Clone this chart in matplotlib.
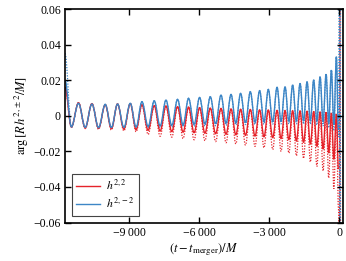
import matplotlib
matplotlib.use("Agg")
import matplotlib.pyplot as plt
from matplotlib.path import Path
from matplotlib.patches import PathPatch
from matplotlib.lines import Line2D

plt.rcParams['font.family'] = ['Liberation Serif', 'DejaVu Serif']
plt.rcParams['mathtext.fontset'] = 'stix'

# ---- data ----
t_start = -11750
peak_t = [-11173, -10599, -10029, -9501, -8957, -8456, -7929, -7427, -6930, -6459,
          -5987, -5529, -5070, -4641, -4230, -3814, -3416, -3043, -2670, -2327,
          -2001, -1684, -1384, -1101, -827, -570, -343, -129]
trough_t = [-11480, -10886, -10314, -9765, -9229, -8706, -8192, -7678, -7178, -6694,
            -6223, -5758, -5300, -4855, -4435, -4022, -3615, -3230, -2856, -2498,
            -2164, -1842, -1534, -1242, -964, -698, -456, -236, -40]
merger_t = [0, 25, 50]

blue_start = 0.020
blue_start_dot = 0.035
blue_peak = [0.0070, 0.0066, 0.0064, 0.0066, 0.0070, 0.0079, 0.0084, 0.0088, 0.0092, 0.0098,
             0.0103, 0.0107, 0.0116, 0.0120, 0.0126, 0.0135, 0.0141, 0.0148, 0.0160, 0.0163,
             0.0173, 0.0182, 0.0191, 0.0201, 0.0219, 0.0234, 0.0257, 0.0332]
blue_trough = [-0.0062, -0.0065, -0.0066, -0.0066, -0.0065, -0.0063, -0.0060, -0.0057, -0.0054, -0.0051,
               -0.0048, -0.0046, -0.0044, -0.0042, -0.0040, -0.0038, -0.0036, -0.0034, -0.0033, -0.0032,
               -0.0031, -0.0030, -0.0030, -0.0030, -0.0032, -0.0035, -0.0040, -0.0050, -0.0080]
blue_trough_dot = [-0.0065, -0.0068, -0.0070, -0.0071, -0.0071, -0.0070, -0.0068, -0.0066, -0.0064, -0.0062,
                   -0.0060, -0.0058, -0.0056, -0.0054, -0.0052, -0.0050, -0.0049, -0.0048, -0.0047, -0.0046,
                   -0.0046, -0.0046, -0.0047, -0.0048, -0.0052, -0.0058, -0.0068, -0.0085, -0.0120]
blue_merger = [0.07, -0.07, 0.07]

red_start = 0.016
red_peak = [0.0073, 0.0068, 0.0062, 0.0066, 0.0068, 0.0062, 0.0057, 0.0055, 0.0051, 0.0048,
            0.0045, 0.0043, 0.0041, 0.0038, 0.0036, 0.0035, 0.0033, 0.0032, 0.0030, 0.0029,
            0.0028, 0.0027, 0.0026, 0.0024, 0.0022, 0.0020, 0.0016, 0.0010]
red_trough = [-0.0063, -0.0068, -0.0070, -0.0072, -0.0075, -0.0078, -0.0082, -0.0086, -0.0089, -0.0092,
              -0.0095, -0.0098, -0.0101, -0.0104, -0.0107, -0.0110, -0.0114, -0.0118, -0.0123, -0.0128,
              -0.0134, -0.0142, -0.0150, -0.0160, -0.0172, -0.0188, -0.0210, -0.0245, -0.0300]
red_trough_dot = [-0.0065, -0.0072, -0.0076, -0.0080, -0.0085, -0.0090, -0.0105, -0.0115, -0.0120, -0.0128,
                  -0.0135, -0.0140, -0.0145, -0.0152, -0.0158, -0.0165, -0.0172, -0.0180, -0.0190, -0.0200,
                  -0.0210, -0.0225, -0.0240, -0.0260, -0.0285, -0.0310, -0.0350, -0.0410, -0.0520]
red_merger = [-0.07, 0.07, -0.07]

labels = [r'$h^{2,2}$', r'$h^{2,-2}$']
xticks = [-9000, -6000, -3000, 0]
xticklabels = ['\u22129\u2009000', '\u22126\u2009000', '\u22123\u2009000', '0']
yticks = [-0.06, -0.04, -0.02, 0, 0.02, 0.04, 0.06]
yticklabels = ['\u22120.06', '\u22120.04', '\u22120.02', '0', '0.02', '0.04', '0.06']

RED = '#e5232a'
BLUE = '#3d86c6'


def extrema(start_v, peaks, troughs, merger):
    pts = [(t_start, start_v)]
    for i in range(len(peak_t)):
        pts.append((trough_t[i], troughs[i]))
        pts.append((peak_t[i], peaks[i]))
    pts.append((trough_t[-1], troughs[-1]))
    for t, v in zip(merger_t, merger):
        pts.append((t, v))
    return pts


def smooth_path(pts):
    verts = [pts[0]]
    codes = [Path.MOVETO]
    for (x0, y0), (x1, y1) in zip(pts[:-1], pts[1:]):
        d = (x1 - x0) * 0.364
        verts += [(x0 + d, y0), (x1 - d, y1), (x1, y1)]
        codes += [Path.CURVE4] * 3
    return Path(verts, codes)


fig = plt.figure(figsize=(3.46, 2.61), dpi=100)
ax = fig.add_axes([0.188, 0.1475, 0.803, 0.818])

series = [
    (RED, red_start, red_start, red_peak, red_trough, red_trough_dot, red_merger),
    (BLUE, blue_start, blue_start_dot, blue_peak, blue_trough, blue_trough_dot, blue_merger),
]
for color, s0, s0d, pk, tr, trd, mg in series:
    p_dot = smooth_path(extrema(s0d, pk, trd, mg))
    ax.add_patch(PathPatch(p_dot, fill=False, edgecolor=color, lw=0.9, linestyle=(0, (1, 1.2))))
for color, s0, s0d, pk, tr, trd, mg in series:
    p_sol = smooth_path(extrema(s0, pk, tr, []))
    ax.add_patch(PathPatch(p_sol, fill=False, edgecolor=color, lw=1.0))

ax.set_xlim(-11750, 150)
ax.set_ylim(-0.06, 0.06)
ax.set_xticks(xticks)
ax.set_xticklabels(xticklabels)
ax.set_yticks(yticks)
ax.set_yticklabels(yticklabels)
ax.tick_params(direction='in', top=True, right=True, length=4, width=1.0, labelsize=8.5, pad=3)
for sp in ax.spines.values():
    sp.set_linewidth(1.2)

ax.set_xlabel(r'$(t - t_{\rm merger})/M$', fontsize=9, labelpad=2)
ax.set_ylabel(r'$\arg\left[R\, h^{2,\pm 2}/M\right]$', fontsize=9, labelpad=2)

handles = [Line2D([], [], color=RED, lw=1.0), Line2D([], [], color=BLUE, lw=1.0)]
leg = ax.legend(handles, labels, loc='lower left', fontsize=8.5, fancybox=False,
                edgecolor='#444444', framealpha=1, borderaxespad=0.55,
                handlelength=2.0, handletextpad=0.5, labelspacing=0.3, borderpad=0.4)
leg.get_frame().set_linewidth(0.8)

fig.savefig('out.png', dpi=100)
